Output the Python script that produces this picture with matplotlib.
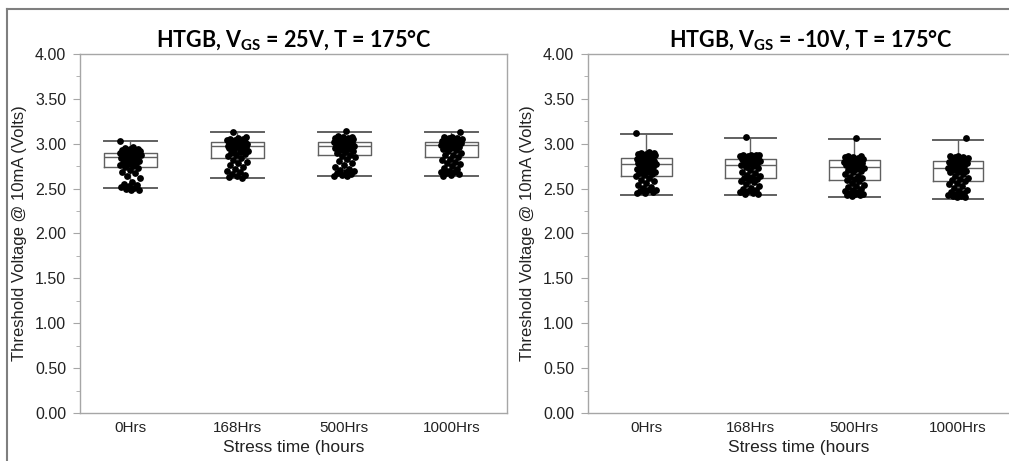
import numpy as np
import matplotlib.pyplot as plt
from matplotlib.lines import Line2D
from matplotlib.ticker import MultipleLocator

# categories
labels = ["0Hrs", "168Hrs", "500Hrs", "1000Hrs"]

# box statistics (Volts)
pos_q1 = [2.74, 2.84, 2.87, 2.85]
pos_med = [2.85, 2.98, 2.98, 2.99]
pos_q3 = [2.90, 3.02, 3.02, 3.02]
pos_lo = [2.51, 2.62, 2.64, 2.64]
pos_hi = [3.03, 3.13, 3.13, 3.13]

neg_q1 = [2.645, 2.62, 2.60, 2.59]
neg_med = [2.77, 2.76, 2.74, 2.73]
neg_q3 = [2.845, 2.835, 2.815, 2.81]
neg_lo = [2.43, 2.43, 2.41, 2.385]
neg_hi = [3.11, 3.06, 3.05, 3.045]

# individual devices, VGS = 25V
pos_0 = [3.03, 2.96, 2.95, 2.94, 2.94, 2.93, 2.93, 2.92, 2.92, 2.92, 2.91, 2.91, 2.91,
         2.90, 2.90, 2.90, 2.89, 2.89, 2.88, 2.88, 2.87, 2.87, 2.86, 2.86, 2.85, 2.85,
         2.84, 2.83, 2.82, 2.81, 2.80, 2.79, 2.78, 2.77, 2.76, 2.75, 2.74, 2.73, 2.71,
         2.69, 2.67, 2.64, 2.62, 2.57, 2.55, 2.54, 2.53, 2.52, 2.51, 2.50, 2.49, 2.48]
pos_168 = [3.13, 3.08, 3.06, 3.05, 3.05, 3.04, 3.04, 3.03, 3.03, 3.02, 3.02, 3.01, 3.01,
           3.00, 3.00, 3.00, 2.99, 2.99, 2.98, 2.98, 2.97, 2.97, 2.96, 2.96, 2.95, 2.94,
           2.93, 2.92, 2.91, 2.90, 2.89, 2.88, 2.86, 2.84, 2.82, 2.80, 2.78, 2.76, 2.74,
           2.72, 2.70, 2.68, 2.66, 2.65, 2.64, 2.63, 2.62]
pos_500 = [3.14, 3.09, 3.08, 3.07, 3.06, 3.06, 3.05, 3.05, 3.04, 3.04, 3.03, 3.03, 3.02,
           3.02, 3.01, 3.01, 3.00, 3.00, 2.99, 2.99, 2.98, 2.98, 2.97, 2.96, 2.95, 2.95,
           2.94, 2.93, 2.92, 2.91, 2.90, 2.88, 2.86, 2.85, 2.83, 2.81, 2.79, 2.76, 2.74,
           2.72, 2.71, 2.70, 2.68, 2.67, 2.66, 2.65, 2.64, 2.64]
pos_1000 = [3.13, 3.08, 3.07, 3.06, 3.06, 3.05, 3.05, 3.04, 3.04, 3.03, 3.03, 3.02, 3.02,
            3.01, 3.01, 3.00, 3.00, 2.99, 2.99, 2.98, 2.97, 2.96, 2.95, 2.94, 2.93, 2.92,
            2.90, 2.88, 2.87, 2.85, 2.83, 2.82, 2.80, 2.78, 2.77, 2.75, 2.73, 2.72, 2.70,
            2.69, 2.68, 2.67, 2.66, 2.65, 2.64]

# individual devices, VGS = -10V
neg_0 = [3.12, 2.91, 2.90, 2.90, 2.89, 2.89, 2.88, 2.87, 2.87, 2.86, 2.85, 2.85, 2.84,
         2.83, 2.82, 2.82, 2.81, 2.80, 2.79, 2.78, 2.78, 2.77, 2.76, 2.75, 2.74, 2.73,
         2.72, 2.71, 2.70, 2.69, 2.68, 2.67, 2.66, 2.65, 2.64, 2.62, 2.60, 2.58, 2.56,
         2.54, 2.52, 2.51, 2.49, 2.48, 2.47, 2.46, 2.45, 2.45]
neg_168 = [3.07, 2.88, 2.88, 2.87, 2.87, 2.86, 2.86, 2.85, 2.85, 2.84, 2.84, 2.83, 2.83,
           2.82, 2.81, 2.80, 2.79, 2.78, 2.77, 2.76, 2.75, 2.74, 2.73, 2.71, 2.69, 2.67,
           2.65, 2.64, 2.63, 2.62, 2.61, 2.60, 2.59, 2.57, 2.55, 2.53, 2.51, 2.50, 2.49,
           2.47, 2.46, 2.45, 2.44, 2.44]
neg_500 = [3.06, 2.86, 2.86, 2.85, 2.85, 2.84, 2.84, 2.83, 2.83, 2.82, 2.82, 2.81, 2.80,
           2.79, 2.79, 2.78, 2.77, 2.76, 2.75, 2.74, 2.73, 2.72, 2.71, 2.70, 2.68, 2.66,
           2.64, 2.63, 2.62, 2.61, 2.60, 2.58, 2.56, 2.54, 2.53, 2.52, 2.50, 2.48, 2.47,
           2.46, 2.45, 2.44, 2.44, 2.43, 2.43, 2.42]
neg_1000 = [3.06, 2.86, 2.86, 2.85, 2.85, 2.84, 2.84, 2.83, 2.82, 2.81, 2.80, 2.80, 2.79,
            2.78, 2.77, 2.76, 2.75, 2.74, 2.73, 2.72, 2.71, 2.70, 2.69, 2.68, 2.66, 2.64,
            2.62, 2.61, 2.60, 2.58, 2.56, 2.55, 2.53, 2.51, 2.49, 2.47, 2.46, 2.45, 2.44,
            2.43, 2.42, 2.42, 2.41, 2.41]

titles = [r"HTGB, V$\mathregular{_{GS}}$ = 25V, T = 175°C",
          r"HTGB, V$\mathregular{_{GS}}$ = -10V, T = 175°C"]

plt.rcParams['font.family'] = ['Liberation Sans', 'DejaVu Sans']

spine_col = '#a6a6a6'
box_col = '#606060'
text_col = '#222222'

fig = plt.figure(figsize=(10.09, 4.61), dpi=100)
ax1 = fig.add_axes([80 / 1009, 1 - 413 / 461, 427 / 1009, 359 / 461])
ax2 = fig.add_axes([588 / 1009, 1 - 413 / 461, 422 / 1009, 359 / 461])

panels = [
    (ax1, (pos_q1, pos_med, pos_q3, pos_lo, pos_hi), [pos_0, pos_168, pos_500, pos_1000], (0.53, 4.52), 0.5),
    (ax2, (neg_q1, neg_med, neg_q3, neg_lo, neg_hi), [neg_0, neg_168, neg_500, neg_1000], (0.44, 4.5), 0.528),
]

for k, (ax, (q1, med, q3, lo, hi), groups, xl, tx) in enumerate(panels):
    stats = [dict(q1=a, med=b, q3=c, whislo=d, whishi=e, fliers=[])
             for a, b, c, d, e in zip(q1, med, q3, lo, hi)]
    ax.bxp(stats, positions=[1, 2, 3, 4], widths=0.49, capwidths=0.49,
           showfliers=False, manage_ticks=False,
           boxprops=dict(color=box_col, linewidth=1.0),
           medianprops=dict(color=box_col, linewidth=1.0),
           whiskerprops=dict(color=box_col, linewidth=1.0),
           capprops=dict(color=box_col, linewidth=1.4))
    for j, vals in enumerate(groups):
        n = len(vals)
        # deterministic strip jitter
        off = ((np.arange(n) * 0.618 + 0.3 * j) % 1.0 - 0.5) * 0.2
        ax.scatter(j + 1 + off, vals, s=24, color='black', zorder=3, linewidths=0)

    ax.set_xlim(*xl)
    ax.set_ylim(0, 4.0)
    ax.set_xticks([1, 2, 3, 4])
    ax.set_xticklabels(labels, fontsize=11, family=['Liberation Sans Narrow', 'Liberation Sans'])
    ax.yaxis.set_major_locator(MultipleLocator(0.5))
    ax.yaxis.set_minor_locator(MultipleLocator(0.25))
    ax.set_yticklabels([f"{v:.2f}" for v in ax.get_yticks()], fontsize=11.5, color=text_col)
    ax.tick_params(axis='x', length=0, pad=6, labelcolor=text_col)
    ax.tick_params(axis='y', which='major', length=5, color=spine_col, pad=5)
    ax.tick_params(axis='y', which='minor', length=3, color=spine_col)
    for sp in ax.spines.values():
        sp.set_color(spine_col)
        sp.set_linewidth(1.0)
    ax.set_xlabel("Stress time (hours", fontsize=12.5, labelpad=3, color=text_col)
    ax.set_ylabel("Threshold Voltage @ 10mA (Volts)", fontsize=12, labelpad=6, color=text_col)
    ax.set_title(titles[k], fontsize=15.5, fontweight='bold', family='Lato', pad=5, x=tx)

# outer frame of the figure
fig.add_artist(Line2D([7 / 1009, 7 / 1009], [0, 1 - 9 / 461], color='#7f7f7f', lw=1.5))
fig.add_artist(Line2D([7 / 1009, 1], [1 - 9 / 461, 1 - 9 / 461], color='#7f7f7f', lw=1.5))

fig.savefig("out.png", dpi=100)
